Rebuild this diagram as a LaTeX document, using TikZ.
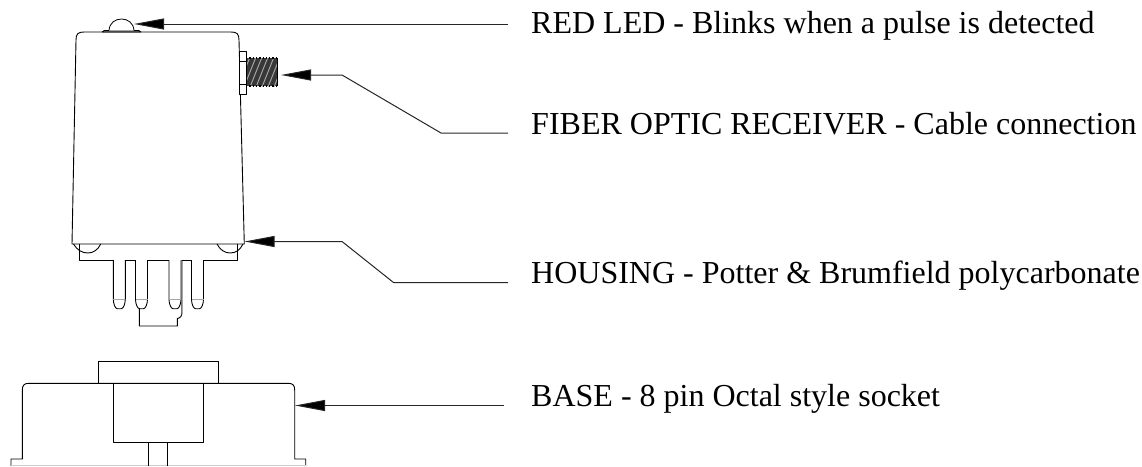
\documentclass[tikz,border=0pt]{standalone}
\usepackage{fontspec}
\setmainfont{Liberation Serif}
\usetikzlibrary{arrows.meta}
\tikzset{
  part/.style={draw=black,line width=0.9pt,line join=round},
  leader/.style={draw=black!85,line width=1pt,-{Triangle[length=30pt,width=11pt,fill=black]}},
  lab/.style={anchor=base west,inner sep=0pt,font=\fontsize{32pt}{36pt}\selectfont,text=black},
}
\begin{document}
\begin{tikzpicture}[x=1pt,y=-1pt]
\useasboundingbox (0,0) rectangle (1142,466);
% --- relay body
\draw[part] (72,244) -- (76,40) .. controls (76,34) and (78,32) .. (84,32) -- (231,32) .. controls (237,32) and (239,34) .. (239,40) -- (244.3,244) -- cycle;
% LED
\draw[part,fill=black!55,line width=0.6pt] (102,32) -- (104,30.5) -- (139,30.5) -- (141,32) -- cycle;
\draw[part,fill=white,line width=0.8pt] (109,30.5) .. controls (109.5,23) and (115,19) .. (121.5,19) .. controls (128,19) and (133.5,23) .. (134,30.5);
% fibre connector
\fill[black!78] (246,58) rectangle (277.5,86);
\begin{scope}
\clip (246,58) rectangle (277.5,86);
\foreach \i in {0,...,7}
  \draw[black!35,line width=1pt] (\i*6+238,87) -- (\i*6+250,57);
\end{scope}
\draw[black,line width=1.3pt,dotted] (246,58) -- (277.5,58);
\draw[black,line width=1.3pt,dotted] (246,86) -- (277.5,86);
\draw[black,line width=1pt] (277.5,58) -- (277.5,86);
\draw[part,fill=white] (239.4,51) rectangle (246,94);
\draw[part] (239.4,61) -- (246,61) (239.4,84) -- (246,84);
% --- lower housing
\draw[part] (79,244) -- (79,260) -- (237,260) -- (237,244);
\draw[part] (73.5,244) .. controls (77,250) and (82,253) .. (88,253) .. controls (93,253) and (98,250) .. (100.7,244);
\draw[part] (217,244) .. controls (220,250) and (225,253) .. (230,253) .. controls (236,253) and (240,250) .. (243,244);
% pins
\foreach \x in {113.3,135.5,169,191.5}{
  \draw[part,fill=white] (\x,260) -- (\x,299) .. controls (\x,304) and (\x+2,308.7) .. (\x+4,308.7) -- (\x+8,308.7) .. controls (\x+10,308.7) and (\x+12,304) .. (\x+12,299) -- (\x+12,260);
  \draw[black!35,line width=0.8pt] (\x,299) -- (\x+12,299);
}
% key
\draw[part] (139.3,308) -- (139.3,326) -- (177.3,326) -- (177.3,318.5) .. controls (180.5,318) and (182,316) .. (182,312) -- (182,260);
\draw[black!55,line width=0.8pt] (181,260) -- (181,312);
% --- base
\draw[part] (98.3,383.3) -- (98.3,361.7) -- (218.3,361.7) -- (218.3,383.3);
\draw[part] (11,466) -- (11,459) -- (22.3,459) -- (22.3,390) .. controls (22.3,385) and (24.5,383.3) .. (29,383.3) -- (288,383.3) .. controls (292.5,383.3) and (294.7,385) .. (294.7,390) -- (294.7,459) -- (305.7,459) -- (305.7,466);
\draw[black!20,line width=1.2pt] (11,465.6) -- (305.7,465.6);
\draw[part] (113.3,383.3) rectangle (203.3,442.8);
\draw[part] (148.7,442.8) -- (148.7,466) (167.7,442.8) -- (167.7,466);
% --- anchors for the leaders
\coordinate (ledtip) at (134,24);
\coordinate (ledend) at (508,24);
\coordinate (fibtip) at (281,75);
\coordinate (fibk1) at (342,75);
\coordinate (fibk2) at (441,133);
\coordinate (fibend) at (508,133);
\coordinate (houtip) at (244.5,241.5);
\coordinate (houk1) at (342,241.5);
\coordinate (houk2) at (393.5,282.5);
\coordinate (houend) at (508,282.5);
\coordinate (bastip) at (295,405.5);
\coordinate (basend) at (504,405.5);
\draw[leader] (ledend) -- (ledtip);
\draw[leader] (fibend) -- (fibk2) -- (fibk1) -- (fibtip);
\draw[leader] (houend) -- (houk2) -- (houk1) -- (houtip);
\draw[leader] (basend) -- (bastip);
% --- labels
\node[lab] (l1) at (531,33.5) {RED LED - Blinks when a pulse is detected};
\node[lab] (l2) at (531,134) {FIBER OPTIC RECEIVER - Cable connection};
\node[lab] (l3) at (531,283) {HOUSING - Potter \& Brumfield polycarbonate};
\node[lab] (l4) at (531,406) {BASE - 8 pin Octal style socket};
\end{tikzpicture}
\end{document}
